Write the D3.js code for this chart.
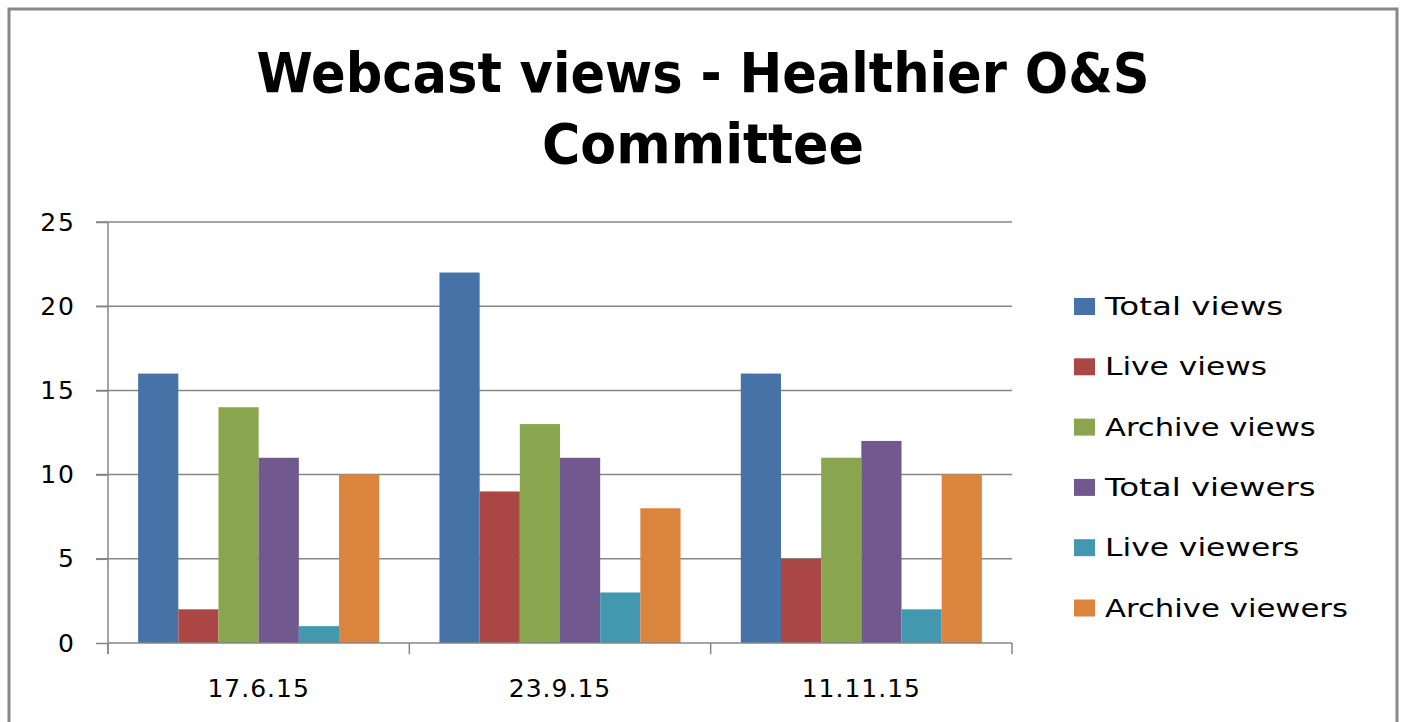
<!DOCTYPE html>
<html>
<head>
<meta charset="utf-8">
<script src="https://cdn.jsdelivr.net/npm/d3@7"></script>
<style>
  body { margin: 0; background: #fff; }
  text { font-family: "DejaVu Sans", sans-serif; fill: #000; }
</style>
</head>
<body>
<div class="chart"></div>
<script>
var categories = ["17.6.15", "23.9.15", "11.11.15"];
var seriesNames = ["Total views", "Live views", "Archive views", "Total viewers", "Live viewers", "Archive viewers"];
var seriesColors = ["#4572A7", "#AA4643", "#89A54E", "#71588F", "#4198AF", "#DB843D"];
var totalViews = [16, 22, 16];
var liveViews = [2, 9, 5];
var archiveViews = [14, 13, 11];
var totalViewers = [11, 11, 12];
var liveViewers = [1, 3, 2];
var archiveViewers = [10, 8, 10];
var yTicks = [0, 5, 10, 15, 20, 25];

var seriesValues = [totalViews, liveViews, archiveViews, totalViewers, liveViewers, archiveViewers];

var svgWidth = 1406;
var svgHeight = 722;
var margin = { top: 222, right: 394, bottom: 79, left: 108 };
var width = svgWidth - margin.left - margin.right;
var height = svgHeight - margin.top - margin.bottom;

var svg = d3.select(".chart")
  .append("svg")
  .attr("width", svgWidth)
  .attr("height", svgHeight);

// outer frame
svg.append("rect")
  .attr("x", 9).attr("y", 9)
  .attr("width", 1388).attr("height", 730)
  .attr("fill", "none")
  .attr("stroke", "#888")
  .attr("stroke-width", 3);

// title
svg.append("text")
  .attr("x", 703).attr("y", 92)
  .attr("text-anchor", "middle")
  .attr("font-size", 55).attr("font-weight", "bold")
  .attr("textLength", 893).attr("lengthAdjust", "spacingAndGlyphs")
  .text("Webcast views - Healthier O&S");
svg.append("text")
  .attr("x", 703).attr("y", 163)
  .attr("text-anchor", "middle")
  .attr("font-size", 55).attr("font-weight", "bold")
  .attr("textLength", 322).attr("lengthAdjust", "spacingAndGlyphs")
  .text("Committee");

var chart = svg.append("g")
  .attr("transform", "translate(" + margin.left + "," + margin.top + ")");

var x0 = d3.scaleBand().domain(categories).range([0, width]).paddingInner(0.2).paddingOuter(0.1);
var x1 = d3.scaleBand().domain(seriesNames).range([0, x0.bandwidth()]);
var y = d3.scaleLinear().domain([0, 25]).range([height, 0]);

// gridlines
chart.selectAll(".grid")
  .data(yTicks.filter(function(d) { return d > 0; }))
  .enter().append("line")
  .attr("x1", -12).attr("x2", width)
  .attr("y1", function(d) { return y(d); })
  .attr("y2", function(d) { return y(d); })
  .attr("stroke", "#868686").attr("stroke-width", 1.5);

// bars
var groups = chart.selectAll(".group")
  .data(categories)
  .enter().append("g")
  .attr("transform", function(d) { return "translate(" + x0(d) + ",0)"; });

groups.selectAll("rect")
  .data(function(d, i) {
    return seriesNames.map(function(name, j) { return { name: name, value: seriesValues[j][i], color: seriesColors[j] }; });
  })
  .enter().append("rect")
  .attr("x", function(d) { return x1(d.name); })
  .attr("y", function(d) { return y(d.value); })
  .attr("width", x1.bandwidth())
  .attr("height", function(d) { return height - y(d.value); })
  .attr("fill", function(d) { return d.color; });

// y axis
var leftAxis = d3.axisLeft(y).tickValues(yTicks).tickSize(12).tickPadding(20);
var yAxis = chart.append("g").call(leftAxis);
yAxis.select(".domain").remove();
yAxis.append("line").attr("x1", 0).attr("x2", 0).attr("y1", 0).attr("y2", height + 11)
  .attr("stroke", "#868686").attr("stroke-width", 1.5);
yAxis.selectAll(".tick line").attr("stroke", "#868686").attr("stroke-width", 1.5);
yAxis.selectAll(".tick text").attr("font-size", 25).attr("font-family", "DejaVu Sans").attr("fill", "#000")
  .attr("letter-spacing", 2);

// x axis
var xAxisG = chart.append("g").attr("transform", "translate(0," + height + ")");
xAxisG.append("line").attr("x1", 0).attr("x2", width).attr("y1", 0).attr("y2", 0)
  .attr("stroke", "#868686").attr("stroke-width", 1.5);
var boundaries = [0].concat(categories.map(function(c) { return x0(c) + x0.bandwidth() + x0.step() * 0.1; }));
xAxisG.selectAll(".xtick")
  .data(boundaries)
  .enter().append("line")
  .attr("x1", function(d) { return d; }).attr("x2", function(d) { return d; })
  .attr("y1", 0).attr("y2", 11)
  .attr("stroke", "#868686").attr("stroke-width", 1.5);
xAxisG.selectAll(".xlabel")
  .data(categories)
  .enter().append("text")
  .attr("x", function(d) { return x0(d) + x0.bandwidth() / 2; })
  .attr("y", 54)
  .attr("text-anchor", "middle")
  .attr("font-size", 25)
  .attr("letter-spacing", 1)
  .text(function(d) { return d; });

// legend
var legend = svg.append("g").attr("transform", "translate(1074,306)");
var rows = legend.selectAll(".row")
  .data(seriesNames)
  .enter().append("g")
  .attr("transform", function(d, i) { return "translate(0," + (i * 60.3) + ")"; });
rows.append("rect")
  .attr("x", 0).attr("y", -8)
  .attr("width", 21).attr("height", 17)
  .attr("fill", function(d, i) { return seriesColors[i]; });
rows.append("text")
  .attr("x", 31).attr("y", 9)
  .attr("font-size", 25)
  .attr("textLength", function(d) { return d.length * 16.2; })
  .attr("lengthAdjust", "spacingAndGlyphs")
  .text(function(d) { return d; });
</script>
</body>
</html>
